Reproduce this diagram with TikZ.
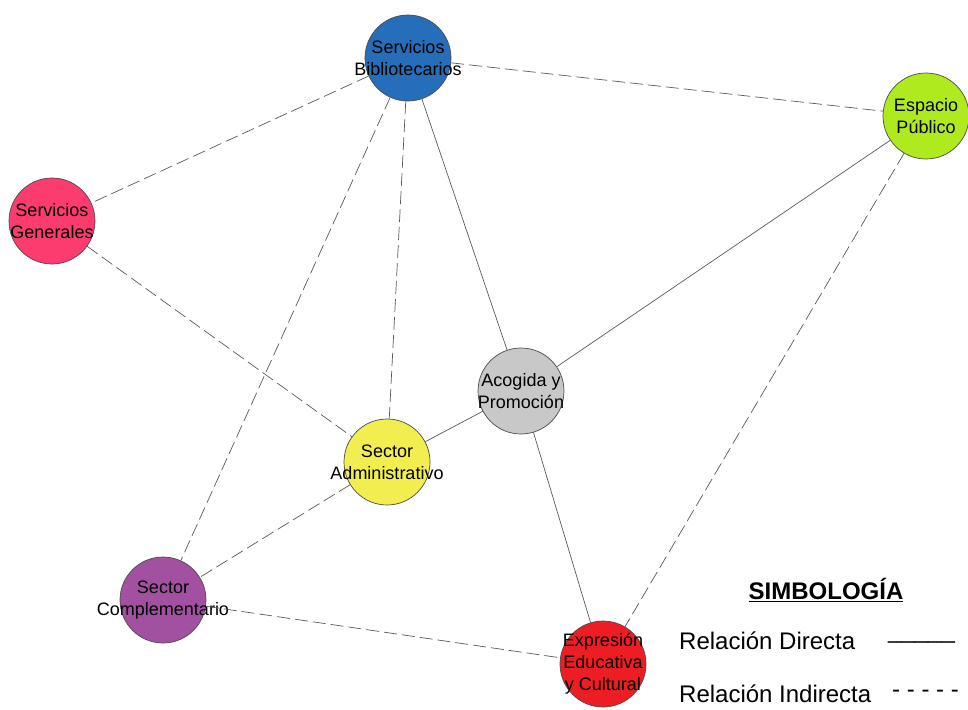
\documentclass[tikz,border=0pt]{standalone}
\usepackage{fontspec}
\setmainfont{Liberation Sans}
\usetikzlibrary{positioning}
\definecolor{cbib}{RGB}{38,110,185}
\definecolor{cesp}{RGB}{174,234,30}
\definecolor{cgen}{RGB}{252,60,110}
\definecolor{cacg}{RGB}{200,200,200}
\definecolor{cadm}{RGB}{242,238,80}
\definecolor{ccom}{RGB}{162,80,160}
\definecolor{cexp}{RGB}{236,30,36}
\tikzset{
  area/.style={circle,draw=black!70,line width=0.7pt,minimum size=86pt,inner sep=0pt},
  areatext/.style={align=center,font=\fontsize{18}{22}\selectfont,inner sep=0pt},
  directa/.style={draw=black!65,line width=0.7pt},
  indirecta/.style={draw=black!65,line width=0.7pt,dash pattern=on 13pt off 5pt},
  legend/.style={font=\fontsize{24}{28}\selectfont,inner sep=0pt}
}
\begin{document}
\begin{tikzpicture}[x=1pt,y=-1pt]
  \useasboundingbox (0,0) rectangle (968,709);
  % areas
  \node[area,fill=cbib,label={[areatext]center:Servicios\\Bibliotecarios}] (bib) at (408,58) {};
  \node[area,fill=cesp,label={[areatext]center:Espacio\\Público}] (esp) at (926,116) {};
  \node[area,fill=cgen,label={[areatext]center:Servicios\\Generales}] (gen) at (52,221) {};
  \node[area,fill=cacg,label={[areatext]center:Acogida y\\Promoción}] (acg) at (521,391) {};
  \node[area,fill=cadm,label={[areatext]center:Sector\\Administrativo}] (adm) at (387,462) {};
  \node[area,fill=ccom,label={[areatext]center:Sector\\Complementario}] (com) at (163,600) {};
  \node[area,fill=cexp,label={[areatext]center:Expresión\\Educativa\\y Cultural}] (exp) at (603,664) {};
  % relaciones directas
  \draw[directa] (bib) -- (acg);
  \draw[directa] (esp) -- (acg);
  \draw[directa] (acg) -- (adm);
  \draw[directa] (acg) -- (exp);
  % relaciones indirectas
  \draw[indirecta] (bib) -- (gen);
  \draw[indirecta] (bib) -- (esp);
  \draw[indirecta] (bib) -- (adm);
  \draw[indirecta] (bib) -- (com);
  \draw[indirecta] (gen) -- (adm);
  \draw[indirecta] (adm) -- (com);
  \draw[indirecta] (com) -- (exp);
  \draw[indirecta] (esp) -- (exp);
  % simbologia
  \node[legend,font=\fontsize{24}{28}\selectfont\bfseries] (simb) at (826,590) {\underline{SIMBOLOGÍA}};
  \node[legend,anchor=west] (dir) at (679,641) {Relación Directa};
  \node[legend,anchor=west] (ind) at (679,694) {Relación Indirecta};
  \node[legend,anchor=west] (dirline) at (888,641) {\_\_\_\_\_};
  \node[legend,anchor=west] (indline) at (892,694) {- - - - -};
\end{tikzpicture}
\end{document}
